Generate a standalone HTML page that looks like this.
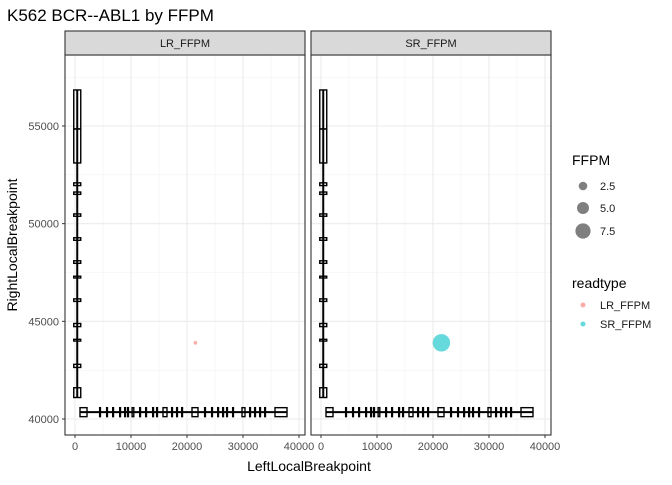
<!DOCTYPE html>
<html><head><meta charset="utf-8"><style>
body{margin:0;background:#fff;font-family:"Liberation Sans",sans-serif}
svg text{font-family:"Liberation Sans",sans-serif}
</style></head><body>
<svg id="c" width="672" height="480" xmlns="http://www.w3.org/2000/svg">
<text x="7" y="21" font-size="17" fill="#000">K562 BCR--ABL1 by FFPM</text>
<text x="309" y="471" font-size="14" text-anchor="middle">LeftLocalBreakpoint</text>
<text transform="translate(17,245) rotate(-90)" font-size="14" text-anchor="middle">RightLocalBreakpoint</text>
<g id="panels"></g>
<g>
<text x="572" y="165" font-size="14">FFPM</text>
<circle cx="583" cy="186" r="4.3" fill="#000" fill-opacity="0.5"/>
<circle cx="583" cy="208" r="6" fill="#000" fill-opacity="0.5"/>
<circle cx="583" cy="231" r="7.6" fill="#000" fill-opacity="0.5"/>
<text x="600" y="190" font-size="11" fill="#1a1a1a">2.5</text>
<text x="600" y="212" font-size="11" fill="#1a1a1a">5.0</text>
<text x="600" y="235" font-size="11" fill="#1a1a1a">7.5</text>
<text x="572" y="288" font-size="14">readtype</text>
<circle cx="583" cy="305" r="2.5" fill="#F8766D" fill-opacity="0.6"/>
<circle cx="583" cy="324" r="2.5" fill="#00BFC4" fill-opacity="0.6"/>
<text x="600" y="309" font-size="11" fill="#1a1a1a">LR_FFPM</text>
<text x="600" y="328" font-size="11" fill="#1a1a1a">SR_FFPM</text>
</g>
</svg>
<script>
const panelNames=["LR_FFPM","SR_FFPM"];
const xTicks=[0,10000,20000,30000,40000];
const yTicks=[40000,45000,50000,55000];
const yExonStarts=[54849,53108,51950,51500,50380,49150,47970,47220,46020,44730,43990,42640,41100];
const yExonEnds=[56846,54849,52090,51620,50500,49280,48100,47310,46150,44890,44080,42800,41600];
const xExonStarts=[893,4400,5650,6730,7980,8870,9400,10200,11550,12620,13870,14580,15714,17260,18150,19050,20893,23150,24400,25480,26370,27080,28150,29821,31190,32080,32980,33870,35714];
const xExonEnds=[2143,4520,5770,6850,8100,8990,9520,10500,11670,12740,13990,14700,16429,17380,18270,19170,21964,23270,24520,25600,26490,27200,28270,30357,31310,32200,33100,33990,37857];
const ptX=[21500];const ptY=[43900];
const ffpm={LR_FFPM:0.15,SR_FFPM:8.6};
const colors={LR_FFPM:"#F8766D",SR_FFPM:"#00BFC4"};
const NS="http://www.w3.org/2000/svg";
const g=document.getElementById("panels");
function mk(t,a,p){const e=document.createElementNS(NS,t);for(const k in a)e.setAttribute(k,a[k]);(p||g).appendChild(e);return e;}
const pTop=55,pBot=435;
const ys=v=>419-(v-40000)*0.019533;
const xScale=(x0)=>v=>x0+10+v*0.0056;
const lefts=[65,311],w=240;
panelNames.forEach((pn,i)=>{
 const L=lefts[i],xs=xScale(L);
 const pg=mk("g",{});
 
 
 mk("rect",{x:L,y:pTop,width:w,height:pBot-pTop,fill:"#fff"},pg);
 for(let v=5000;v<=40000;v+=10000){mk("line",{x1:xs(v),x2:xs(v),y1:pTop,y2:pBot,stroke:"#f2f2f2","stroke-width":0.6},pg);}
 for(let v=42500;v<=57500;v+=5000){mk("line",{x1:L,x2:L+w,y1:ys(v),y2:ys(v),stroke:"#f2f2f2","stroke-width":0.6},pg);}
 xTicks.forEach(v=>mk("line",{x1:xs(v),x2:xs(v),y1:pTop,y2:pBot,stroke:"#ebebeb","stroke-width":1.1},pg));
 yTicks.forEach(v=>mk("line",{x1:L,x2:L+w,y1:ys(v),y2:ys(v),stroke:"#ebebeb","stroke-width":1.1},pg));
 const gx=xs(400);
 mk("line",{x1:gx,x2:gx,y1:ys(yExonEnds[0]),y2:ys(yExonStarts[yExonStarts.length-1]),stroke:"#000","stroke-width":2},pg);
 yExonStarts.forEach((s,k)=>{const r=mk("rect",{x:gx-3.5,y:ys(yExonEnds[k]),width:7,height:Math.max(1.5,ys(s)-ys(yExonEnds[k])),fill:"none",stroke:"#000","stroke-width":1.4},pg);});
 const gy=ys(40350);
 mk("line",{x1:xs(xExonStarts[0]),x2:xs(xExonEnds[xExonEnds.length-1]),y1:gy,y2:gy,stroke:"#000","stroke-width":2},pg);
 xExonStarts.forEach((s,k)=>{const r=mk("rect",{x:xs(s),y:gy-4.5,width:Math.max(0.8,xs(xExonEnds[k])-xs(s)),height:9,fill:"none",stroke:"#000","stroke-width":1.4},pg);});
 const f=ffpm[pn];
 const c=mk("circle",{cx:xs(ptX[0]),cy:ys(ptY[0]),r:Math.max(1.8,Math.sqrt(f/7.5)*7.6+0.6),fill:colors[pn],"fill-opacity":0.6},pg);
 
 
 mk("rect",{x:L,y:pTop,width:w,height:pBot-pTop,fill:"none",stroke:"#333","stroke-width":1.1},pg);
 const st=mk("rect",{x:L,y:31,width:w,height:24,fill:"#d9d9d9",stroke:"#333","stroke-width":1.1},pg);
 
 
 const tt=mk("text",{x:L+w/2,y:47,"font-size":11,"text-anchor":"middle",fill:"#1a1a1a"},pg);tt.textContent=pn;
 xTicks.forEach(v=>{mk("line",{x1:xs(v),x2:xs(v),y1:pBot,y2:pBot+3,stroke:"#333"},pg);
  const t=mk("text",{x:xs(v),y:pBot+15,"font-size":11,"text-anchor":"middle",fill:"#4d4d4d"},pg);t.textContent=v;
  });
});
yTicks.forEach(v=>{mk("line",{x1:62,x2:65,y1:ys(v),y2:ys(v),stroke:"#333"});
 const t=mk("text",{x:59,y:ys(v)+4,"font-size":11,"text-anchor":"end",fill:"#4d4d4d"});t.textContent=v;
 });
</script>
</body></html>
